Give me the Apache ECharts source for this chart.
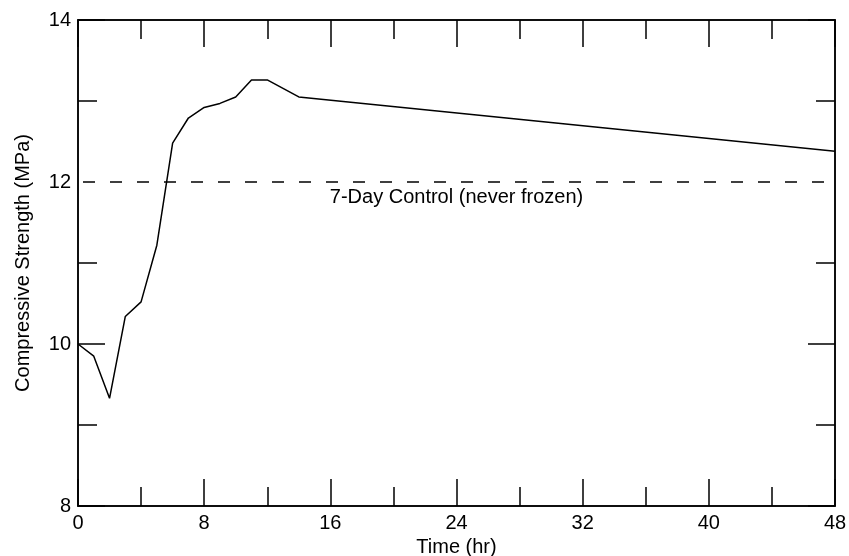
<!DOCTYPE html>
<html>
<head>
<meta charset="utf-8">
<script src="https://cdn.jsdelivr.net/npm/echarts@6/dist/echarts.min.js"></script>
<style>
  html, body { margin: 0; padding: 0; background: #ffffff; }
  #chart { width: 849px; height: 556px; }
</style>
</head>
<body>
<div id="chart"></div>
<script>
// ---- data ----
var timeHr = [0, 1, 2, 3, 4, 5, 6, 7, 8, 9, 10, 11, 12, 14, 48];
var strengthMPa = [10.0, 9.85, 9.33, 10.34, 10.52, 11.22, 12.48, 12.79, 12.92, 12.97, 13.05, 13.26, 13.26, 13.05, 12.38];
var controlTime = [0, 48];
var controlValue = 12;
var controlLabel = '7-Day Control (never frozen)';
var controlLabelAt = 24;

var xTicksMajor = [0, 8, 16, 24, 32, 40, 48];
var xTicksMinor = [4, 12, 20, 28, 36, 44];
var yTicksMajor = [8, 10, 14];
var yTicksMinor = [9, 11, 13];
var yLabels = [8, 10, 12, 14];

var xTitle = 'Time (hr)';
var yTitle = 'Compressive Strength (MPa)';

// ---- chart ----
var FONT = 'Liberation Sans, Arial, sans-serif';
var lineCol = '#000';
var chart = echarts.init(document.getElementById('chart'), null, { renderer: 'canvas' });

function xAx(pos, ticks, len, withLabel) {
  var a = {
    type: 'value', position: pos, min: 0, max: 48, interval: 8,
    axisLine: { show: true, onZero: false, lineStyle: { color: lineCol, width: 1.5 } },
    axisTick: { show: true, inside: true, length: len, customValues: ticks, lineStyle: { color: lineCol, width: 1.5 } },
    axisLabel: { show: withLabel, color: '#000', fontSize: 20, fontFamily: FONT, margin: 7, customValues: xTicksMajor },
    splitLine: { show: false }
  };
  if (withLabel) {
    a.name = xTitle; a.nameLocation = 'middle'; a.nameGap = 31; a.nameMoveOverlap = false;
    a.nameTextStyle = { color: '#000', fontSize: 20, fontFamily: FONT };
  }
  return a;
}
function yAx(pos, ticks, len, withLabel) {
  var a = {
    type: 'value', position: pos, min: 8, max: 14, interval: 2,
    axisLine: { show: true, onZero: false, lineStyle: { color: lineCol, width: 1.5 } },
    axisTick: { show: true, inside: true, length: len, customValues: ticks, lineStyle: { color: lineCol, width: 1.5 } },
    axisLabel: { show: withLabel, color: '#000', fontSize: 20, fontFamily: FONT, margin: 7, customValues: yLabels },
    splitLine: { show: false }
  };
  if (withLabel) {
    a.name = yTitle; a.nameLocation = 'middle'; a.nameGap = 45; a.nameMoveOverlap = false;
    a.nameTextStyle = { color: '#000', fontSize: 20, fontFamily: FONT };
  }
  return a;
}

chart.setOption({
  animation: false,
  backgroundColor: '#ffffff',
  grid: { left: 78, right: 14, top: 20, bottom: 50, containLabel: false, outerBoundsMode: 'none' },
  xAxis: [
    xAx('bottom', xTicksMajor, 27, true),
    xAx('bottom', xTicksMinor, 19, false),
    xAx('top', xTicksMajor, 27, false),
    xAx('top', xTicksMinor, 19, false)
  ],
  yAxis: [
    yAx('left', yTicksMajor, 27, true),
    yAx('left', yTicksMinor, 19, false),
    yAx('right', yTicksMajor, 27, false),
    yAx('right', yTicksMinor, 19, false)
  ],
  series: [
    {
      type: 'line', xAxisIndex: 0, yAxisIndex: 0,
      data: timeHr.map(function (t, i) { return [t, strengthMPa[i]]; }),
      symbol: 'none', silent: true,
      lineStyle: { color: '#000', width: 1.5 }
    },
    {
      type: 'line', xAxisIndex: 0, yAxisIndex: 0,
      data: controlTime.map(function (t) { return [t, controlValue]; }),
      symbol: 'none', silent: true,
      lineStyle: { color: '#000', width: 1.5, type: [12, 15], dashOffset: 22 }
    },
    {
      type: 'scatter', xAxisIndex: 0, yAxisIndex: 0,
      data: [[controlLabelAt, controlValue]],
      symbolSize: 0, silent: true,
      itemStyle: { opacity: 1, color: '#000' },
      label: {
        show: true, position: 'bottom', distance: 5,
        formatter: controlLabel, opacity: 1,
        color: '#000', fontSize: 20, fontFamily: FONT
      }
    }
  ]
});
</script>
</body>
</html>
